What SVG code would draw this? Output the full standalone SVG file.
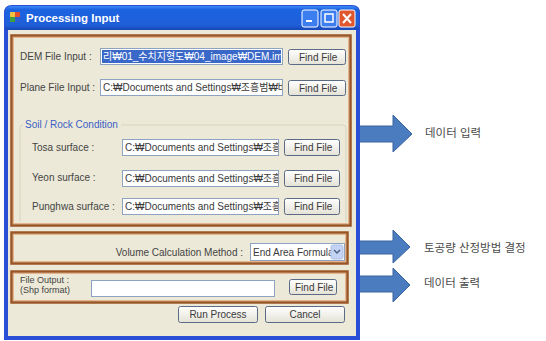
<svg xmlns="http://www.w3.org/2000/svg" width="546" height="341" viewBox="0 0 546 341">
<defs>
<style>
text{font-family:"Liberation Sans","Noto Sans CJK KR",sans-serif;font-size:10px;fill:#3a3a3a}
.lbl{fill:#444}
.small{font-size:9px}
.tb{fill:#fff;stroke:#8ea3c0;stroke-width:1}
.btn{fill:url(#btnG);stroke:#5b6b86;stroke-width:1}
.frame{fill:none;stroke:#9a5526;stroke-width:2.5}
.frameIn{fill:none;stroke:#e6b48c;stroke-width:1}
.ko{font-size:11.5px;fill:#4a4a4a}
.arrow{fill:#4a7cbf;stroke:#3a65a0;stroke-width:1}
</style>
<linearGradient id="titleG" x1="0" y1="0" x2="0" y2="1">
<stop offset="0" stop-color="#3d8af7"/>
<stop offset="0.15" stop-color="#1b63e0"/>
<stop offset="0.8" stop-color="#1f5fd8"/>
<stop offset="1" stop-color="#1846b8"/>
</linearGradient>
<linearGradient id="btnG" x1="0" y1="0" x2="0" y2="1">
<stop offset="0" stop-color="#ffffff"/>
<stop offset="1" stop-color="#e4e2d6"/>
</linearGradient>
<clipPath id="c1"><rect x="101" y="49" width="181" height="15"/></clipPath>
<clipPath id="c2"><rect x="101" y="80" width="181" height="15"/></clipPath>
<clipPath id="c3"><rect x="123" y="140" width="155" height="15"/></clipPath>
<clipPath id="c4"><rect x="123" y="171" width="155" height="15"/></clipPath>
<clipPath id="c5"><rect x="123" y="199" width="155" height="15"/></clipPath>
<clipPath id="c6"><rect x="251" y="244" width="80" height="16"/></clipPath>
</defs>
<rect width="546" height="341" fill="#ffffff"/>

<g id="connectors">
<path class="arrow" d="M352,126 H393 V115 L412,134 L393,152 V142 H352 Z"/>
<path class="arrow" d="M352,241 H393 V230 L410,247 L393,263 V254 H352 Z"/>
<path class="arrow" d="M352,276 H393 V268 L410,285 L393,302 V292 H352 Z"/>
</g>

<g id="window">
<path d="M4,13 Q4,5 12,5 H352 Q360,5 360,13 V340 H4 Z" fill="#2a4fd6"/>
<path d="M5,13 Q5,6 12,6 H352 Q359,6 359,13 V30 H5 Z" fill="url(#titleG)"/>
<rect x="8" y="30" width="348" height="306" fill="#ece9d8"/>
<g id="icon">
<rect x="10" y="12" width="5" height="5" fill="#f0c040"/>
<rect x="15" y="12" width="5" height="5" fill="#e05030"/>
<rect x="10" y="17" width="5" height="5" fill="#40a040"/>
<rect x="15" y="17" width="5" height="5" fill="#3060d0"/>
</g>
<text x="26" y="22" style="font-weight:bold;font-size:11.5px;fill:#ffffff">Processing Input</text>
<g id="minBtn">
<rect x="302" y="10" width="16" height="17" rx="2" fill="#3c7ef0" stroke="#ffffff" stroke-width="1"/>
<rect x="306" y="20" width="6" height="2" fill="#ffffff"/>
</g>
<g id="maxBtn">
<rect x="321" y="10" width="16" height="17" rx="2" fill="#3c7ef0" stroke="#ffffff" stroke-width="1"/>
<rect x="325" y="14" width="8" height="8" fill="none" stroke="#ffffff" stroke-width="1.5"/>
</g>
<g id="closeBtn">
<rect x="339" y="10" width="16" height="17" rx="2" fill="#e0572f" stroke="#ffffff" stroke-width="1"/>
<path d="M343,14 L351,23 M351,14 L343,23" stroke="#ffffff" stroke-width="2"/>
</g>
</g>

<g id="input-frame">
<rect class="frame" x="11.5" y="35.5" width="339" height="190"/>
<rect class="frameIn" x="13.5" y="37.5" width="335" height="186"/>
<text class="lbl" x="20" y="60">DEM File Input :</text>
<rect class="tb" x="100.5" y="48.5" width="182" height="16"/>
<rect x="102" y="50" width="179" height="13" fill="#3a68c8"/>
<text x="103" y="60" clip-path="url(#c1)" style="fill:#ffffff">리₩01_수치지형도₩04_image₩DEM.img</text>
<g id="btnDem"><rect class="btn" x="288.5" y="49.5" width="57" height="15" rx="2"/><text x="299" y="60.5">Find File</text></g>
<text class="lbl" x="20" y="91">Plane File Input :</text>
<rect class="tb" x="100.5" y="79.5" width="182" height="16"/>
<text x="103" y="91" clip-path="url(#c2)">C:₩Documents and Settings₩조흥범₩바탕</text>
<g id="btnPlane"><rect class="btn" x="288.5" y="80.5" width="57" height="15" rx="2"/><text x="299" y="91.5">Find File</text></g>

<path d="M20,222 V128 Q20,125 23,125 H343 Q346,125 346,128 V222" fill="none" stroke="#d6d3c0" stroke-width="1"/>
<rect x="23" y="120" width="98" height="10" fill="#ece9d8"/>
<text x="25" y="128" style="fill:#3a5fc6">Soil / Rock Condition</text>

<text class="lbl" x="32" y="151">Tosa surface :</text>
<rect class="tb" x="122.5" y="139.5" width="156" height="16"/>
<text x="125" y="151" clip-path="url(#c3)">C:₩Documents and Settings₩조흥범</text>
<g id="btnTosa"><rect class="btn" x="284.5" y="139.5" width="55" height="16" rx="2"/><text x="294" y="151">Find File</text></g>

<text class="lbl" x="32" y="181">Yeon surface :</text>
<rect class="tb" x="122.5" y="170.5" width="156" height="16"/>
<text x="125" y="182" clip-path="url(#c4)">C:₩Documents and Settings₩조흥범</text>
<g id="btnYeon"><rect class="btn" x="284.5" y="170.5" width="55" height="16" rx="2"/><text x="294" y="182">Find File</text></g>

<text class="lbl" x="32" y="210">Punghwa surface :</text>
<rect class="tb" x="122.5" y="198.5" width="156" height="16"/>
<text x="125" y="210" clip-path="url(#c5)">C:₩Documents and Settings₩조흥범</text>
<g id="btnPunghwa"><rect class="btn" x="284.5" y="198.5" width="55" height="16" rx="2"/><text x="294" y="210">Find File</text></g>
</g>

<g id="volume-frame">
<rect class="frame" x="11.5" y="232.5" width="336" height="31"/>
<rect class="frameIn" x="13.5" y="234.5" width="332" height="27"/>
<text class="lbl" x="243" y="256" text-anchor="end">Volume Calculation Method :</text>
<rect x="250.5" y="243.5" width="94" height="17" fill="#ffffff" stroke="#8ea3c0"/>
<text x="253" y="256" clip-path="url(#c6)">End Area Formula</text>
<rect x="331" y="245" width="12" height="14" rx="2" fill="#c4d3f3" stroke="#a8bde6"/>
<path d="M334,250 L337,253 L340,250" fill="none" stroke="#4d6185" stroke-width="1.5"/>
</g>

<g id="output-frame">
<rect class="frame" x="11.5" y="271.5" width="336" height="31"/>
<rect class="frameIn" x="13.5" y="273.5" width="332" height="27"/>
<text class="lbl small" x="20" y="283">File Output :</text>
<text class="lbl small" x="20" y="293">(Shp format)</text>
<rect class="tb" x="91.5" y="280.5" width="183" height="16"/>
<g id="btnOut"><rect class="btn" x="289.5" y="279.5" width="47" height="15" rx="2"/><text x="295" y="290.5">Find File</text></g>
</g>

<g id="runBtn"><rect class="btn" x="178.5" y="306.5" width="79" height="16" rx="2"/><text x="218" y="318" text-anchor="middle">Run Process</text></g>
<g id="cancelBtn"><rect class="btn" x="265.5" y="306.5" width="79" height="16" rx="2"/><text x="305" y="318" text-anchor="middle">Cancel</text></g>

<g id="label-input"><text class="ko" x="425" y="137">데이터 입력</text></g>
<g id="label-volume"><text class="ko" x="424" y="252">토공량 산정방법 결정</text></g>
<g id="label-output"><text class="ko" x="424" y="287">데이터 출력</text></g>
</svg>
